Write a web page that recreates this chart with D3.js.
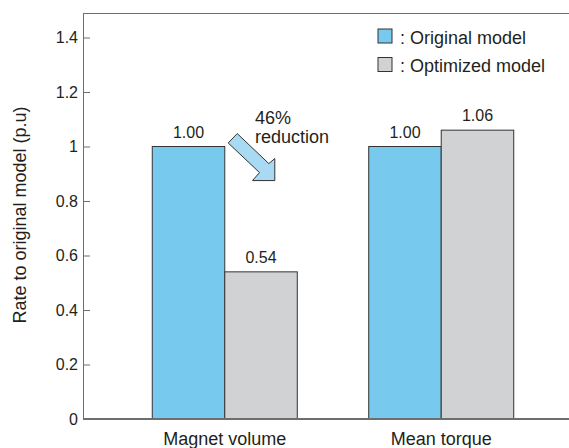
<!DOCTYPE html>
<html>
<head>
<meta charset="utf-8">
<script src="https://cdn.jsdelivr.net/npm/d3@7"></script>
<style>
  html, body { margin: 0; padding: 0; background: #fff; }
  svg { display: block; font-family: "Liberation Sans", Arial, Helvetica, sans-serif; }
</style>
</head>
<body>
<svg id="chart" width="569" height="448"></svg>
<script>
// ---- data ----
const categories = ["Magnet volume", "Mean torque"];
const seriesNames = ["Original", "Optimized"];
const legendLabels = [": Original model", ": Optimized model"];
const originalValues = [1.00, 1.00];
const optimizedValues = [0.54, 1.06];
const valueLabels = [["1.00", "0.54"], ["1.00", "1.06"]];
const yTickValues = [0, 0.2, 0.4, 0.6, 0.8, 1, 1.2, 1.4];
const yTickLabels = ["0", "0.2", "0.4", "0.6", "0.8", "1", "1.2", "1.4"];
const yTitle = "Rate to original model (p.u)";
const annotationLines = ["46%", "reduction"];

// ---- layout ----
const W = 569, H = 448;
const left = 83, bottom = 419, frameTop = 13;
const colors = { Original: "#77c9ee", Optimized: "#d1d2d4" };
const textColor = "#231f20";
const numFont = "16px";

const svg = d3.select("#chart");

const x0 = d3.scaleBand().domain(categories).range([left, 583])
  .paddingInner(0.33).paddingOuter(0.32);
const x1 = d3.scaleBand().domain(seriesNames).range([0, x0.bandwidth()]).padding(0);
const y = d3.scaleLinear().domain([0, 1.4]).range([bottom, 37.5]);

const rows = categories.map((c, i) => ({
  cat: c,
  vals: [
    { s: "Original", v: originalValues[i], label: valueLabels[i][0] },
    { s: "Optimized", v: optimizedValues[i], label: valueLabels[i][1] }
  ]
}));

// frame top line
svg.append("line").attr("x1", left).attr("x2", W).attr("y1", frameTop + 0.5).attr("y2", frameTop + 0.5)
  .attr("stroke", "#6d6e70").attr("stroke-width", 1);

// y axis
const yAxis = d3.axisLeft(y).tickValues(yTickValues)
  .tickFormat((d, i) => yTickLabels[i]).tickSize(-7).tickPadding(5);
const gy = svg.append("g").attr("transform", `translate(${left},0)`).call(yAxis)
  .attr("font-size", numFont).attr("font-family", '"Liberation Sans", Arial, sans-serif');
gy.select(".domain").remove();
gy.selectAll(".tick line").attr("stroke", "#6d6e70");
gy.selectAll(".tick text").attr("fill", textColor).style("font-size", numFont);
svg.append("line").attr("x1", left + 0.5).attr("x2", left + 0.5).attr("y1", frameTop).attr("y2", bottom)
  .attr("stroke", "#6d6e70").attr("stroke-width", 1);

// bars
const groups = svg.append("g").selectAll("g").data(rows).join("g")
  .attr("transform", d => `translate(${x0(d.cat)},0)`);
groups.selectAll("rect").data(d => d.vals).join("rect")
  .attr("x", d => x1(d.s))
  .attr("y", d => y(d.v))
  .attr("width", x1.bandwidth())
  .attr("height", d => y(0) - y(d.v))
  .attr("fill", d => colors[d.s])
  .attr("stroke", "#333")
  .attr("stroke-width", 1);
groups.selectAll("text.val").data(d => d.vals).join("text")
  .attr("class", "val")
  .attr("x", d => x1(d.s) + x1.bandwidth() / 2)
  .attr("y", d => y(d.v) - 9)
  .attr("text-anchor", "middle")
  .attr("fill", textColor)
  .style("font-size", numFont)
  .text(d => d.label);

// bottom axis line
svg.append("line").attr("x1", left).attr("x2", W).attr("y1", bottom).attr("y2", bottom)
  .attr("stroke", "#6d6e70").attr("stroke-width", 2);

// category labels
svg.append("g").selectAll("text").data(categories).join("text")
  .attr("x", d => x0(d) + x0.bandwidth() / 2)
  .attr("y", 445)
  .attr("text-anchor", "middle")
  .attr("fill", textColor)
  .style("font-size", "18px")
  .text(d => d);

// y title
svg.append("text")
  .attr("transform", `translate(25.5,215) rotate(-90)`)
  .attr("text-anchor", "middle")
  .attr("fill", textColor)
  .style("font-size", "18px")
  .text(yTitle);

// legend
const lg = svg.append("g").selectAll("g").data(seriesNames).join("g")
  .attr("transform", (d, i) => `translate(378,${29 + i * 28.5})`);
lg.append("rect").attr("width", 14).attr("height", 14)
  .attr("fill", d => colors[d]).attr("stroke", "#333").attr("stroke-width", 1);
lg.append("text").attr("x", 22).attr("y", 14.5)
  .attr("fill", textColor).style("font-size", "18px")
  .text((d, i) => legendLabels[i]);

// annotation arrow: tip anchored to the optimized bar of the first category
const tipX = x0(categories[0]) + x1("Optimized") + x1.bandwidth() * 0.69;
const tipY = y(0.875);
const arrowShape = [
  [-37.6, -47], [-6, -17], [0, -22], [0, 0], [-22.3, 0], [-15.3, -8], [-46.6, -37.6]
];
svg.append("polygon")
  .attr("points", arrowShape.map(p => [tipX + p[0], tipY + p[1]].join(",")).join(" "))
  .attr("fill", "#a8daf3")
  .attr("stroke", "#333")
  .attr("stroke-width", 1)
  .attr("stroke-linejoin", "miter");

const ann = svg.append("text").attr("fill", textColor).style("font-size", "18px");
ann.selectAll("tspan").data(annotationLines).join("tspan")
  .attr("x", 255)
  .attr("y", (d, i) => 123.5 + i * 19.5)
  .text(d => d);
</script>
</body>
</html>
